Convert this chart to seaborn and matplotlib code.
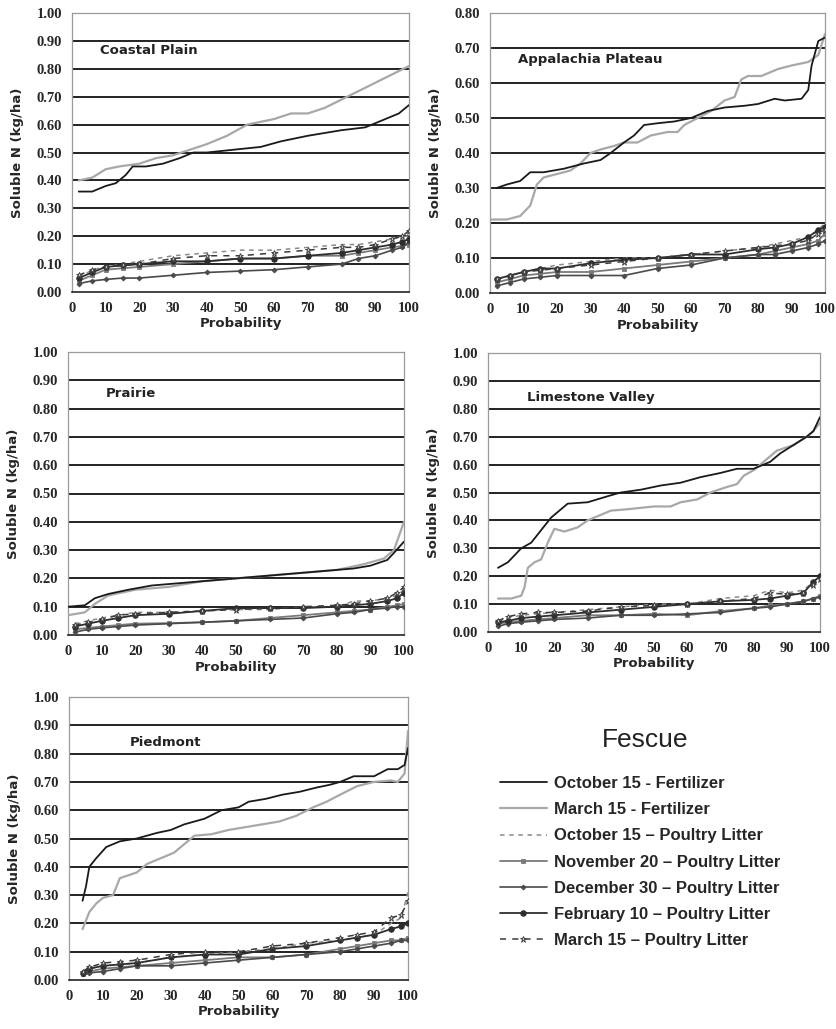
import matplotlib
matplotlib.use("Agg")
import matplotlib.pyplot as plt
import seaborn as sns
import numpy as np
import pandas as pd

# ---------------- data ----------------
SERIES = ["October 15 - Fertilizer", "March 15 - Fertilizer",
          "October 15 \u2013 Poultry Litter", "November 20 \u2013 Poultry Litter",
          "December 30 \u2013 Poultry Litter", "February 10 \u2013 Poultry Litter",
          "March 15 \u2013 Poultry Litter"]
REGIONS = ["Coastal Plain", "Appalachia Plateau", "Prairie", "Limestone Valley", "Piedmont"]

# Coastal Plain
CP_OCTF_X = [2, 6, 10, 13, 16, 18, 22, 27, 32, 36, 40, 48, 56, 62, 70, 75, 80, 87, 93, 97, 100]
CP_OCTF_Y = [0.36, 0.36, 0.38, 0.39, 0.42, 0.45, 0.45, 0.46, 0.48, 0.50, 0.50, 0.51, 0.52, 0.54, 0.56, 0.57, 0.58, 0.59, 0.62, 0.64, 0.67]
CP_MARF_X = [2, 6, 10, 14, 20, 25, 30, 40, 46, 52, 60, 65, 70, 75, 80, 85, 90, 95, 100]
CP_MARF_Y = [0.40, 0.41, 0.44, 0.45, 0.46, 0.48, 0.49, 0.53, 0.56, 0.60, 0.62, 0.64, 0.64, 0.66, 0.69, 0.72, 0.75, 0.78, 0.81]
CP_LOW_X = [2, 6, 10, 15, 20, 30, 40, 50, 60, 70, 80, 85, 90, 95, 98, 100]
CP_OCTPL = [0.05, 0.08, 0.09, 0.10, 0.11, 0.13, 0.14, 0.15, 0.15, 0.16, 0.17, 0.17, 0.18, 0.19, 0.20, 0.20]
CP_NOV = [0.04, 0.06, 0.08, 0.085, 0.09, 0.10, 0.11, 0.12, 0.12, 0.13, 0.13, 0.14, 0.15, 0.16, 0.165, 0.17]
CP_DEC = [0.03, 0.04, 0.045, 0.05, 0.05, 0.06, 0.07, 0.075, 0.08, 0.09, 0.10, 0.12, 0.13, 0.15, 0.16, 0.18]
CP_FEB = [0.05, 0.07, 0.09, 0.095, 0.10, 0.11, 0.11, 0.12, 0.12, 0.13, 0.14, 0.15, 0.16, 0.17, 0.18, 0.19]
CP_MARPL = [0.06, 0.08, 0.09, 0.095, 0.10, 0.12, 0.13, 0.13, 0.14, 0.15, 0.16, 0.16, 0.17, 0.19, 0.20, 0.22]

# Appalachia Plateau
AP_OCTF_X = [2, 5, 9, 12, 16, 22, 28, 33, 36, 40, 43, 46, 50, 55, 60, 65, 70, 76, 80, 85, 88, 93, 95, 96, 98, 100]
AP_OCTF_Y = [0.30, 0.31, 0.32, 0.345, 0.345, 0.355, 0.37, 0.38, 0.40, 0.43, 0.45, 0.48, 0.485, 0.49, 0.50, 0.52, 0.53, 0.535, 0.54, 0.555, 0.55, 0.555, 0.58, 0.65, 0.72, 0.73]
AP_MARF_X = [0, 5, 9, 12, 14, 16, 20, 24, 27, 30, 33, 37, 40, 44, 48, 53, 56, 58, 62, 66, 70, 73, 75, 77, 81, 86, 90, 95, 98, 100]
AP_MARF_Y = [0.21, 0.21, 0.22, 0.25, 0.31, 0.33, 0.34, 0.35, 0.37, 0.40, 0.41, 0.42, 0.43, 0.43, 0.45, 0.46, 0.46, 0.48, 0.50, 0.52, 0.55, 0.56, 0.61, 0.62, 0.62, 0.64, 0.65, 0.66, 0.68, 0.74]
AP_LOW_X = [2, 6, 10, 15, 20, 30, 40, 50, 60, 70, 80, 85, 90, 95, 98, 100]
AP_OCTPL = [0.04, 0.05, 0.06, 0.07, 0.08, 0.09, 0.10, 0.10, 0.11, 0.12, 0.13, 0.14, 0.15, 0.16, 0.18, 0.20]
AP_NOV = [0.03, 0.04, 0.05, 0.055, 0.06, 0.06, 0.07, 0.08, 0.09, 0.10, 0.11, 0.12, 0.13, 0.14, 0.15, 0.17]
AP_DEC = [0.02, 0.03, 0.04, 0.045, 0.05, 0.05, 0.05, 0.07, 0.08, 0.10, 0.11, 0.11, 0.12, 0.13, 0.14, 0.15]
AP_FEB = [0.04, 0.05, 0.06, 0.07, 0.07, 0.085, 0.095, 0.10, 0.11, 0.11, 0.125, 0.13, 0.14, 0.16, 0.18, 0.19]
AP_MARPL = [0.04, 0.05, 0.06, 0.065, 0.07, 0.08, 0.09, 0.10, 0.11, 0.12, 0.13, 0.135, 0.14, 0.15, 0.17, 0.18]

# Prairie
PR_OCTF_X = [0, 5, 8, 12, 18, 25, 35, 45, 55, 65, 75, 85, 90, 95, 97, 100]
PR_OCTF_Y = [0.10, 0.105, 0.13, 0.145, 0.16, 0.175, 0.185, 0.195, 0.205, 0.215, 0.225, 0.235, 0.245, 0.265, 0.29, 0.33]
PR_MARF_X = [0, 5, 8, 12, 20, 30, 40, 50, 60, 70, 80, 88, 94, 97, 100]
PR_MARF_Y = [0.07, 0.08, 0.11, 0.14, 0.16, 0.17, 0.19, 0.20, 0.21, 0.22, 0.23, 0.25, 0.27, 0.30, 0.40]
PR_LOW_X = [2, 6, 10, 15, 20, 30, 40, 50, 60, 70, 80, 85, 90, 95, 98, 100]
PR_OCTPL = [0.04, 0.05, 0.06, 0.07, 0.08, 0.08, 0.085, 0.09, 0.09, 0.10, 0.10, 0.12, 0.12, 0.13, 0.14, 0.16]
PR_NOV = [0.02, 0.025, 0.03, 0.035, 0.04, 0.042, 0.045, 0.05, 0.06, 0.07, 0.08, 0.085, 0.09, 0.10, 0.105, 0.11]
PR_DEC = [0.01, 0.02, 0.025, 0.03, 0.035, 0.04, 0.045, 0.05, 0.055, 0.06, 0.075, 0.08, 0.09, 0.095, 0.10, 0.10]
PR_FEB = [0.03, 0.04, 0.05, 0.06, 0.07, 0.075, 0.085, 0.095, 0.095, 0.095, 0.10, 0.105, 0.11, 0.12, 0.13, 0.15]
PR_MARPL = [0.035, 0.045, 0.055, 0.07, 0.075, 0.08, 0.085, 0.09, 0.095, 0.10, 0.105, 0.11, 0.12, 0.13, 0.15, 0.17]

# Limestone Valley
LV_OCTF_X = [3, 6, 10, 13, 17, 19, 22, 24, 30, 37, 40, 46, 52, 58, 64, 70, 75, 80, 85, 88, 92, 96, 98, 100]
LV_OCTF_Y = [0.23, 0.25, 0.30, 0.32, 0.38, 0.41, 0.44, 0.46, 0.465, 0.49, 0.50, 0.51, 0.525, 0.535, 0.555, 0.57, 0.585, 0.585, 0.61, 0.64, 0.67, 0.70, 0.72, 0.77]
LV_MARF_X = [3, 7, 10, 11, 12, 14, 16, 18, 20, 23, 27, 30, 34, 37, 42, 46, 50, 55, 58, 63, 67, 72, 75, 77, 80, 84, 87, 92, 96, 98, 100]
LV_MARF_Y = [0.12, 0.12, 0.13, 0.16, 0.23, 0.25, 0.26, 0.32, 0.37, 0.36, 0.375, 0.40, 0.42, 0.435, 0.44, 0.445, 0.45, 0.45, 0.465, 0.475, 0.50, 0.52, 0.53, 0.56, 0.58, 0.62, 0.65, 0.67, 0.70, 0.72, 0.75]
LV_LOW_X = [3, 6, 10, 15, 20, 30, 40, 50, 60, 70, 80, 85, 90, 95, 98, 100]
LV_OCTPL = [0.04, 0.05, 0.06, 0.065, 0.07, 0.08, 0.09, 0.10, 0.10, 0.12, 0.13, 0.15, 0.14, 0.15, 0.18, 0.20]
LV_NOV = [0.03, 0.035, 0.04, 0.045, 0.05, 0.06, 0.06, 0.065, 0.06, 0.075, 0.085, 0.095, 0.10, 0.11, 0.12, 0.13]
LV_DEC = [0.02, 0.03, 0.035, 0.04, 0.045, 0.05, 0.06, 0.06, 0.065, 0.07, 0.085, 0.09, 0.10, 0.11, 0.12, 0.125]
LV_FEB = [0.035, 0.04, 0.05, 0.055, 0.06, 0.07, 0.08, 0.09, 0.10, 0.11, 0.115, 0.12, 0.13, 0.14, 0.18, 0.20]
LV_MARPL = [0.04, 0.055, 0.065, 0.07, 0.07, 0.075, 0.09, 0.095, 0.10, 0.11, 0.12, 0.14, 0.135, 0.14, 0.17, 0.19]

# Piedmont
PD_OCTF_X = [4, 5, 6, 8, 11, 15, 20, 23, 26, 30, 34, 40, 45, 50, 53, 58, 63, 68, 73, 77, 80, 84, 90, 94, 97, 99, 100]
PD_OCTF_Y = [0.28, 0.33, 0.40, 0.43, 0.47, 0.49, 0.50, 0.51, 0.52, 0.53, 0.55, 0.57, 0.60, 0.61, 0.63, 0.64, 0.655, 0.665, 0.68, 0.69, 0.70, 0.72, 0.72, 0.745, 0.745, 0.76, 0.82]
PD_MARF_X = [4, 6, 8, 10, 13, 15, 20, 23, 27, 31, 34, 37, 42, 47, 52, 57, 62, 67, 72, 76, 80, 85, 90, 95, 97, 99, 100]
PD_MARF_Y = [0.18, 0.24, 0.27, 0.29, 0.30, 0.36, 0.38, 0.41, 0.43, 0.45, 0.48, 0.51, 0.515, 0.53, 0.54, 0.55, 0.56, 0.58, 0.61, 0.63, 0.655, 0.685, 0.70, 0.705, 0.70, 0.73, 0.88]
PD_LOW_X = [4, 6, 10, 15, 20, 30, 40, 50, 60, 70, 80, 85, 90, 95, 98, 100]
PD_OCTPL = [0.03, 0.04, 0.05, 0.055, 0.06, 0.08, 0.09, 0.10, 0.11, 0.13, 0.14, 0.15, 0.16, 0.20, 0.22, 0.31]
PD_NOV = [0.02, 0.03, 0.04, 0.045, 0.05, 0.06, 0.07, 0.08, 0.08, 0.09, 0.11, 0.12, 0.13, 0.14, 0.14, 0.15]
PD_DEC = [0.02, 0.025, 0.03, 0.04, 0.05, 0.05, 0.06, 0.07, 0.08, 0.09, 0.10, 0.11, 0.12, 0.13, 0.14, 0.14]
PD_FEB = [0.025, 0.04, 0.05, 0.055, 0.06, 0.08, 0.09, 0.09, 0.11, 0.12, 0.14, 0.15, 0.16, 0.18, 0.19, 0.20]
PD_MARPL = [0.03, 0.045, 0.06, 0.065, 0.07, 0.09, 0.10, 0.10, 0.12, 0.13, 0.15, 0.16, 0.17, 0.22, 0.23, 0.28]

Y_MAX = [1.0, 0.8, 1.0, 1.0, 1.0]

# ---------------- styling ----------------
STYLES = [
    dict(color="#1a1a1a", lw=1.3, ls="-", marker=None, ms=0, mfc=None),
    dict(color="#a8a8a8", lw=1.6, ls="-", marker=None, ms=0, mfc=None),
    dict(color="#8a8a8a", lw=1.1, ls=(0, (3, 3)), marker=None, ms=0, mfc=None),
    dict(color="#7a7a7a", lw=1.3, ls="-", marker="s", ms=3.5, mfc="#7a7a7a"),
    dict(color="#4a4a4a", lw=1.2, ls="-", marker="D", ms=2.5, mfc="#4a4a4a"),
    dict(color="#2e2e2e", lw=1.3, ls="-", marker="o", ms=4, mfc="#2e2e2e"),
    dict(color="#3a3a3a", lw=1.1, ls=(0, (4, 4)), marker="*", ms=5, mfc="#c8c8c8"),
]

sns.set_style("white")
plt.rcParams["font.family"] = ["DejaVu Sans"]

fig = plt.figure(figsize=(8.37, 10.29), dpi=100)
W, H = 837.0, 1029.0

def px_axes(l, r, t, b):
    return fig.add_axes([l / W, 1 - b / H, (r - l) / W, (b - t) / H])

axes = [
    px_axes(72, 409, 13, 292),
    px_axes(490, 825, 13, 293),
    px_axes(68, 404, 352, 635),
    px_axes(488, 820, 353, 632),
    px_axes(69, 408, 697, 980),
]

region_data = [
    (CP_OCTF_X, CP_OCTF_Y, CP_MARF_X, CP_MARF_Y, CP_LOW_X, [CP_OCTPL, CP_NOV, CP_DEC, CP_FEB, CP_MARPL]),
    (AP_OCTF_X, AP_OCTF_Y, AP_MARF_X, AP_MARF_Y, AP_LOW_X, [AP_OCTPL, AP_NOV, AP_DEC, AP_FEB, AP_MARPL]),
    (PR_OCTF_X, PR_OCTF_Y, PR_MARF_X, PR_MARF_Y, PR_LOW_X, [PR_OCTPL, PR_NOV, PR_DEC, PR_FEB, PR_MARPL]),
    (LV_OCTF_X, LV_OCTF_Y, LV_MARF_X, LV_MARF_Y, LV_LOW_X, [LV_OCTPL, LV_NOV, LV_DEC, LV_FEB, LV_MARPL]),
    (PD_OCTF_X, PD_OCTF_Y, PD_MARF_X, PD_MARF_Y, PD_LOW_X, [PD_OCTPL, PD_NOV, PD_DEC, PD_FEB, PD_MARPL]),
]

label_pos = [(8.3, 0.865), (8.4, 0.666), (11.3, 0.855), (11.7, 0.842), (18, 0.84)]

tick_font = dict(family="Liberation Serif", weight="bold", size=10.5)

for i, ax in enumerate(axes):
    ox, oy, mx, my, lx, lows = region_data[i]
    xs = [ox, mx] + [lx] * 5
    ys = [oy, my] + lows
    order = [2, 3, 4, 5, 6, 1, 0]
    for k in order:
        st = STYLES[k]
        df = pd.DataFrame({"Probability": xs[k], "N": ys[k]})
        sns.lineplot(data=df, x="Probability", y="N", ax=ax, color=st["color"],
                     linewidth=st["lw"], linestyle=st["ls"], marker=st["marker"],
                     markersize=st["ms"], markerfacecolor=st["mfc"],
                     markeredgecolor=st["color"], markeredgewidth=0.6,
                     label=SERIES[k], errorbar=None, sort=False, zorder=3)
    ymax = Y_MAX[i]
    ax.set_xlim(0, 100)
    ax.set_ylim(0, ymax)
    ax.set_xticks(np.arange(0, 101, 10))
    yt = np.round(np.arange(0, ymax + 1e-9, 0.1), 2)
    ax.set_yticks(yt)
    ax.set_yticklabels([f"{v:.2f}" for v in yt], **tick_font)
    ax.set_xticklabels([str(v) for v in range(0, 101, 10)], **tick_font)
    ax.tick_params(axis="y", length=0, pad=7)
    ax.tick_params(axis="x", length=0, pad=7)
    for v in yt[1:]:
        ax.axhline(v, color="#111111", lw=1.3, zorder=1)
    for s in ["top", "right", "left"]:
        ax.spines[s].set_color("#9a9a9a")
        ax.spines[s].set_linewidth(0.9)
    ax.spines["bottom"].set_color("#222222")
    ax.spines["bottom"].set_linewidth(1.2)
    ax.set_xlabel("Probability", fontsize=9.5, fontweight="bold", labelpad=2)
    ax.set_ylabel("Soluble N (kg/ha)", fontsize=9.5, fontweight="bold", labelpad=9)
    ax.text(label_pos[i][0], label_pos[i][1], REGIONS[i], fontsize=9.5,
            fontweight="bold", color="#222222", va="center", ha="left", zorder=4)
    if ax.get_legend() is not None:
        ax.get_legend().remove()

handles, labels = axes[0].get_legend_handles_labels()
lab_to_h = dict(zip(labels, handles))
ordered_h = [lab_to_h[s] for s in SERIES]

fig.text(645 / W, 1 - 740 / H, "Fescue", fontsize=19, family="Liberation Sans",
         ha="center", va="center", color="#222222")

leg = fig.legend(ordered_h, SERIES, loc="upper left",
                 bbox_to_anchor=(500 / W, 1 - 776 / H), frameon=False,
                 borderpad=0, borderaxespad=0,
                 prop=dict(family="Liberation Sans", weight="bold", size=12),
                 handlelength=2.8, handletextpad=0.45, labelspacing=0.67)

fig.savefig("out.png", dpi=100)
